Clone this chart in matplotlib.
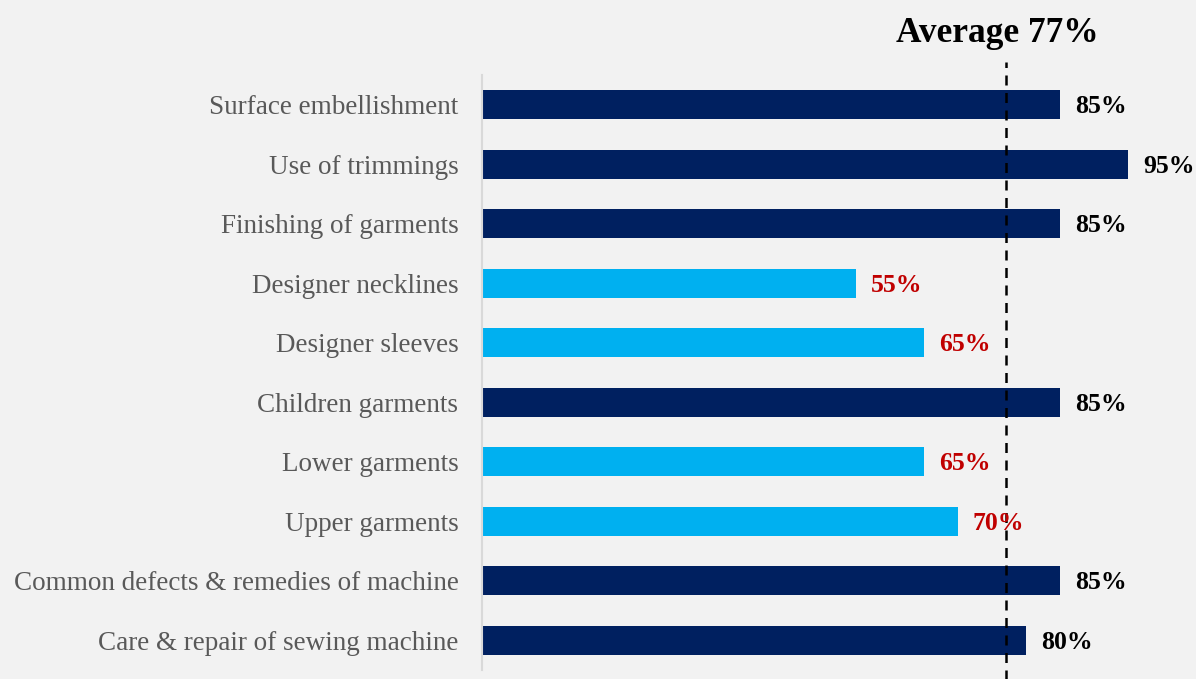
import matplotlib.pyplot as plt

categories = ['Surface embellishment', 'Use of trimmings', 'Finishing of garments',
              'Designer necklines', 'Designer sleeves', 'Children garments',
              'Lower garments', 'Upper garments', 'Common defects & remedies of machine',
              'Care & repair of sewing machine']
values = [85, 95, 85, 55, 65, 85, 65, 70, 85, 80]
average = 77

plt.rcParams['font.family'] = ['Liberation Serif', 'DejaVu Serif']

fig = plt.figure(figsize=(11.96, 6.79), dpi=100, facecolor='#f2f2f2')
ax = fig.add_axes([482/1196, 9/679, 680/1196, 595/679])
ax.set_facecolor('#f2f2f2')

y = list(range(len(categories)))
cols = ['#002060' if v >= average else '#00b0f0' for v in values]
ax.barh(y, values, height=0.49, color=cols)

for i, v in enumerate(values):
    c = 'black' if v >= average else '#c00000'
    ax.text(v + 2.2, i + 0.03, f'{v}%', va='center', ha='left', fontsize=18.5,
            fontweight='bold', color=c)

ax.axvline(average, ymin=-0.016, ymax=1.022, color='black', ls=(0, (4, 3)),
           lw=1.8, clip_on=False)
ax.text(average - 1.2, -1.2, f'Average {average}%', ha='center', va='center',
        fontsize=25.5, fontweight='bold')

ax.set_xlim(0, 100)
ax.set_ylim(len(categories) - 0.5, -0.5)
ax.set_yticks(y)
ax.set_yticklabels(categories, fontsize=19.5, color='#595959')
ax.tick_params(axis='y', length=0, pad=17)
ax.set_xticks([])
for s in ['top', 'right', 'bottom']:
    ax.spines[s].set_visible(False)
ax.spines['left'].set_color('#d9d9d9')
ax.spines['left'].set_linewidth(1.5)

fig.savefig('out.png', dpi=100, facecolor=fig.get_facecolor())
